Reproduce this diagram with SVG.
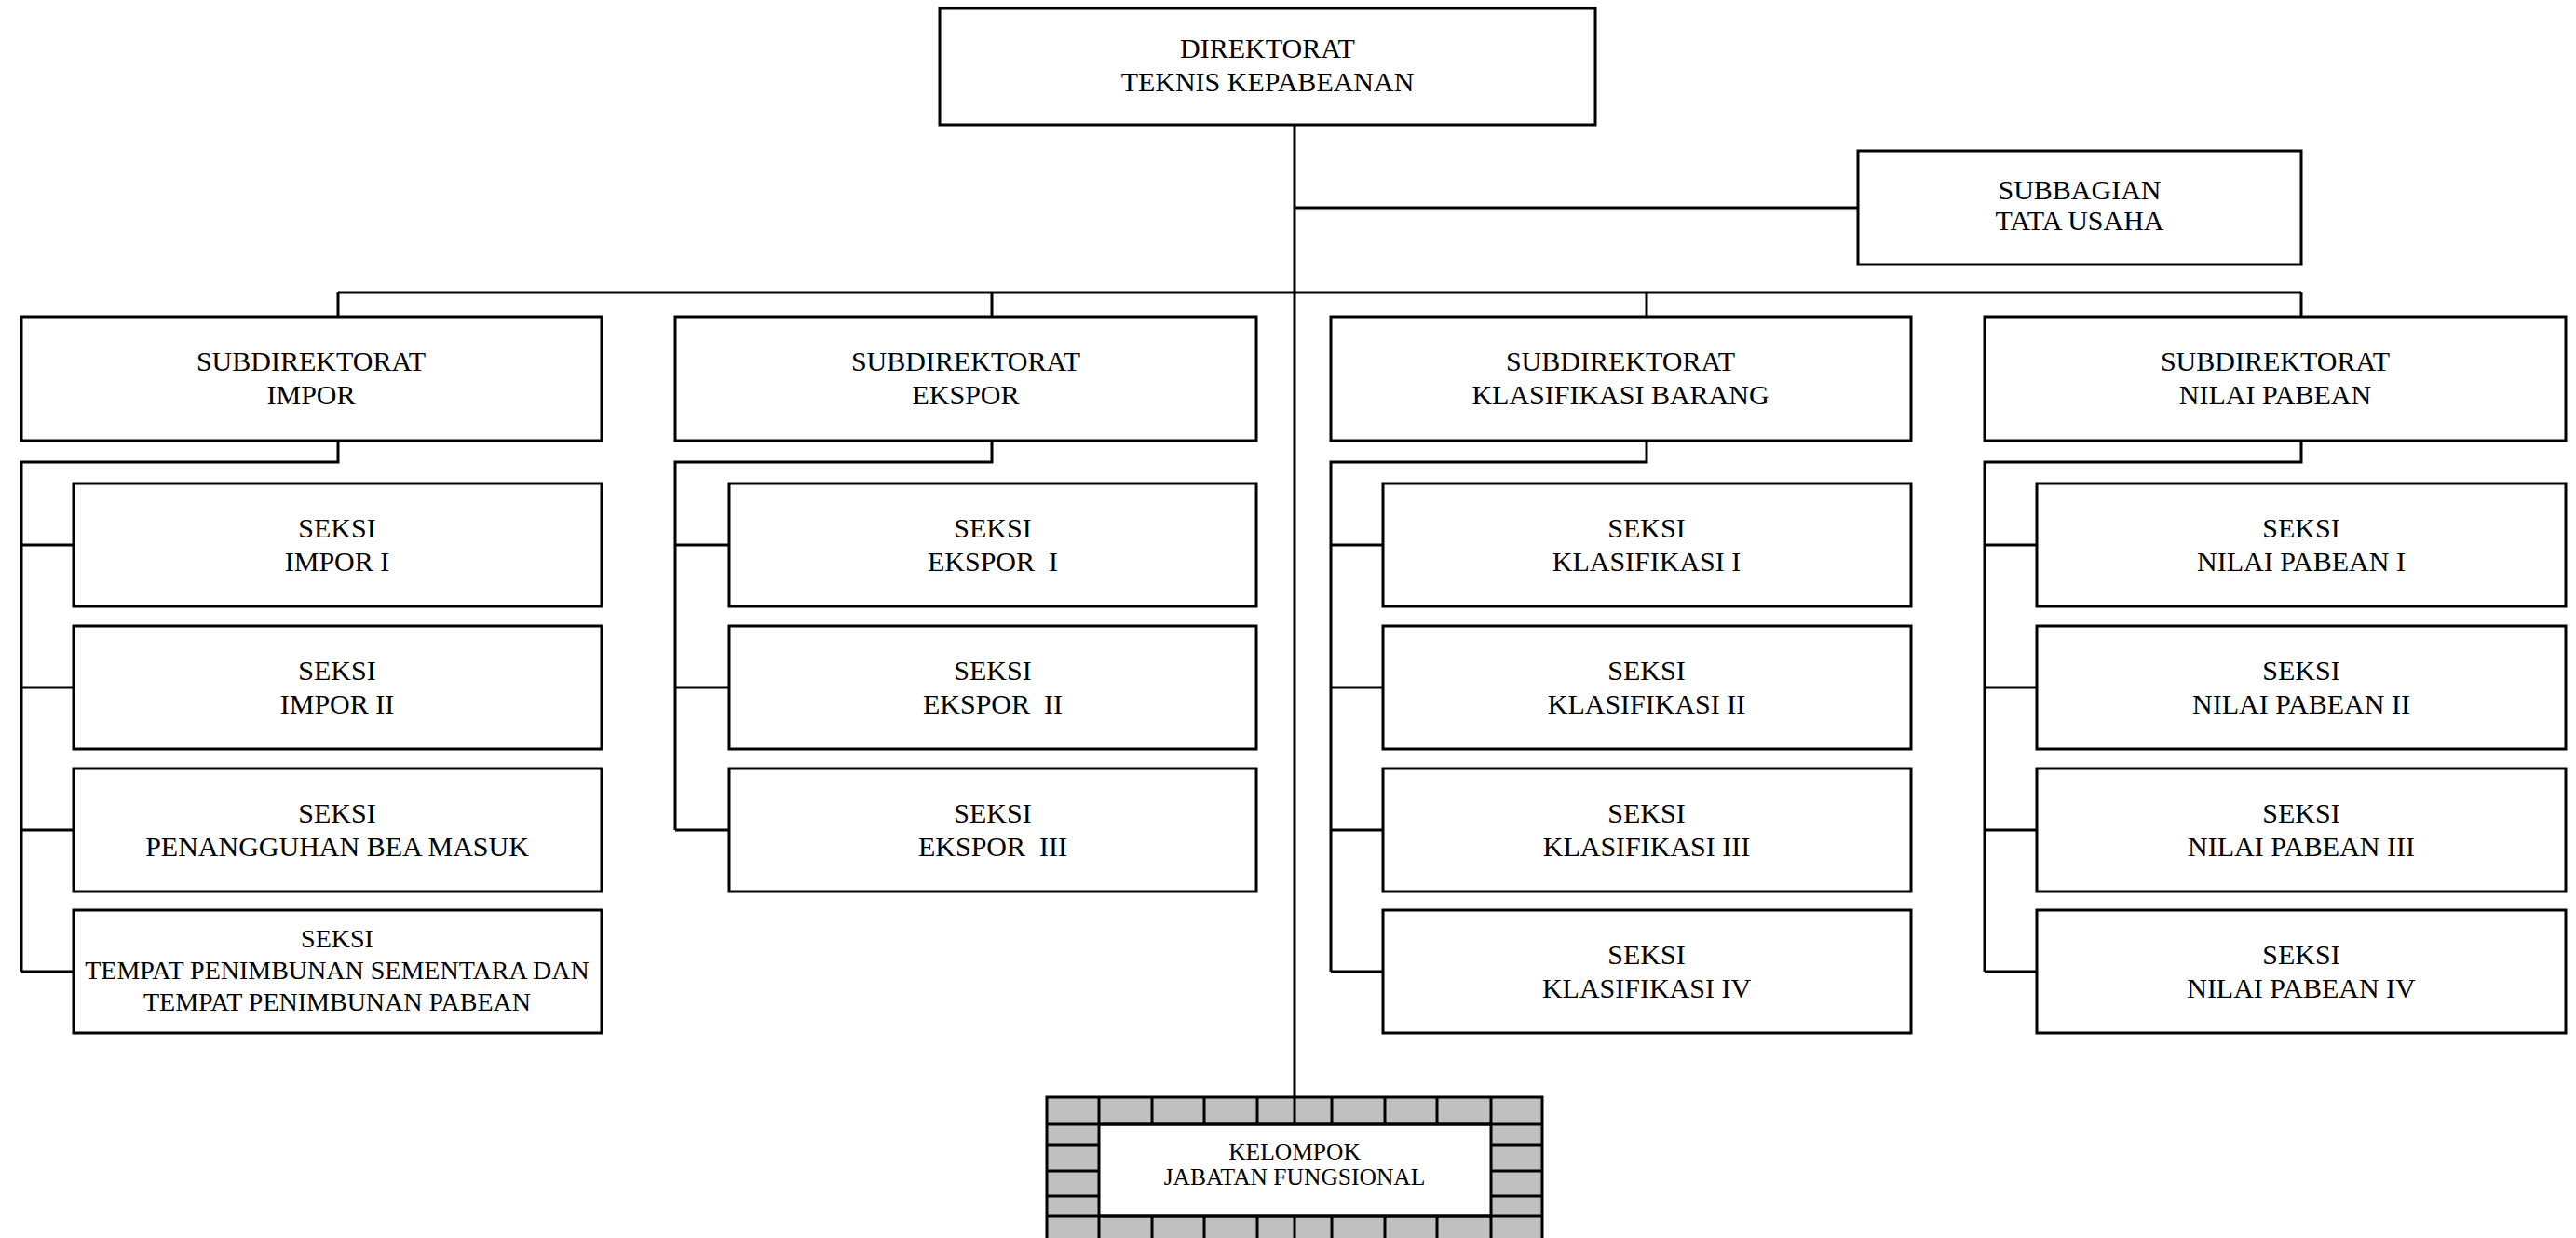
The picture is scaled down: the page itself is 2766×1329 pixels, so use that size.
<svg xmlns="http://www.w3.org/2000/svg" width="2766" height="1329" viewBox="0 0 2766 1329">
<style>
.box{fill:#fff;stroke:#000;stroke-width:3}
.t{font-family:'Liberation Serif','Times New Roman',serif;font-size:30px;text-anchor:middle;fill:#000;white-space:pre}
.s{font-size:28px}
.k{font-size:25.5px}
.conn{stroke:#000;stroke-width:3;fill:none}
.cell{fill:#c0c0c0;stroke:#000;stroke-width:3}
.grid{stroke:#000;stroke-width:3;fill:none}
</style>
<rect width="2766" height="1329" fill="#fff"/>
<g id="connectors">
<path class="conn" d="M1390 134 V1178"/>
<path class="conn" d="M1390 223 H1995"/>
<path class="conn" d="M363 314 H2471"/>
<path class="conn" d="M363 314 V340 M1065 314 V340 M1768 314 V340 M2471 314 V340"/>
<path class="conn" d="M363 473 V496 H23 V1043 M23 585 H79 M23 738 H79 M23 891 H79 M23 1043 H79"/>
<path class="conn" d="M1065 473 V496 H725 V891 M725 585 H783 M725 738 H783 M725 891 H783"/>
<path class="conn" d="M1768 473 V496 H1429 V1043 M1429 585 H1485 M1429 738 H1485 M1429 891 H1485 M1429 1043 H1485"/>
<path class="conn" d="M2471 473 V496 H2131 V1043 M2131 585 H2187 M2131 738 H2187 M2131 891 H2187 M2131 1043 H2187"/>
</g>
<g id="direktorat"><rect class="box" x="1009" y="9" width="704" height="125"/>
<text class="t" x="1361" y="62">DIREKTORAT</text><text class="t" x="1361" y="98">TEKNIS KEPABEANAN</text></g>
<g id="subbagian-tu"><rect class="box" x="1995" y="162" width="476" height="122"/>
<text class="t" x="2233" y="214">SUBBAGIAN</text><text class="t" x="2233" y="247">TATA USAHA</text></g>

<g id="subdit-impor"><rect class="box" x="23" y="340" width="623" height="133"/>
<text class="t" x="334" y="398">SUBDIREKTORAT</text><text class="t" x="334" y="434">IMPOR</text></g>
<g id="subdit-ekspor"><rect class="box" x="725" y="340" width="624" height="133"/>
<text class="t" x="1037" y="398">SUBDIREKTORAT</text><text class="t" x="1037" y="434">EKSPOR</text></g>
<g id="subdit-klasifikasi"><rect class="box" x="1429" y="340" width="623" height="133"/>
<text class="t" x="1740" y="398">SUBDIREKTORAT</text><text class="t" x="1740" y="434">KLASIFIKASI BARANG</text></g>
<g id="subdit-nilai"><rect class="box" x="2131" y="340" width="624" height="133"/>
<text class="t" x="2443" y="398">SUBDIREKTORAT</text><text class="t" x="2443" y="434">NILAI PABEAN</text></g>

<g id="seksi-impor-1"><rect class="box" x="79" y="519" width="567" height="132"/>
<text class="t" x="362" y="577">SEKSI</text><text class="t" x="362" y="613">IMPOR I</text></g>
<g id="seksi-impor-2"><rect class="box" x="79" y="672" width="567" height="132"/>
<text class="t" x="362" y="730">SEKSI</text><text class="t" x="362" y="766">IMPOR II</text></g>
<g id="seksi-impor-3"><rect class="box" x="79" y="825" width="567" height="132"/>
<text class="t" x="362" y="883">SEKSI</text><text class="t" x="362" y="919">PENANGGUHAN BEA MASUK</text></g>
<g id="seksi-impor-4"><rect class="box" x="79" y="977" width="567" height="132"/>
<text class="t s" x="362" y="1017">SEKSI</text><text class="t s" x="362" y="1051">TEMPAT PENIMBUNAN SEMENTARA DAN</text><text class="t s" x="362" y="1085">TEMPAT PENIMBUNAN PABEAN</text></g>

<g id="seksi-ekspor-1"><rect class="box" x="783" y="519" width="566" height="132"/>
<text class="t" x="1066" y="577">SEKSI</text><text class="t" x="1066" y="613">EKSPOR  I</text></g>
<g id="seksi-ekspor-2"><rect class="box" x="783" y="672" width="566" height="132"/>
<text class="t" x="1066" y="730">SEKSI</text><text class="t" x="1066" y="766">EKSPOR  II</text></g>
<g id="seksi-ekspor-3"><rect class="box" x="783" y="825" width="566" height="132"/>
<text class="t" x="1066" y="883">SEKSI</text><text class="t" x="1066" y="919">EKSPOR  III</text></g>

<g id="seksi-klasifikasi-1"><rect class="box" x="1485" y="519" width="567" height="132"/>
<text class="t" x="1768" y="577">SEKSI</text><text class="t" x="1768" y="613">KLASIFIKASI I</text></g>
<g id="seksi-klasifikasi-2"><rect class="box" x="1485" y="672" width="567" height="132"/>
<text class="t" x="1768" y="730">SEKSI</text><text class="t" x="1768" y="766">KLASIFIKASI II</text></g>
<g id="seksi-klasifikasi-3"><rect class="box" x="1485" y="825" width="567" height="132"/>
<text class="t" x="1768" y="883">SEKSI</text><text class="t" x="1768" y="919">KLASIFIKASI III</text></g>
<g id="seksi-klasifikasi-4"><rect class="box" x="1485" y="977" width="567" height="132"/>
<text class="t" x="1768" y="1035">SEKSI</text><text class="t" x="1768" y="1071">KLASIFIKASI IV</text></g>

<g id="seksi-nilai-1"><rect class="box" x="2187" y="519" width="568" height="132"/>
<text class="t" x="2471" y="577">SEKSI</text><text class="t" x="2471" y="613">NILAI PABEAN I</text></g>
<g id="seksi-nilai-2"><rect class="box" x="2187" y="672" width="568" height="132"/>
<text class="t" x="2471" y="730">SEKSI</text><text class="t" x="2471" y="766">NILAI PABEAN II</text></g>
<g id="seksi-nilai-3"><rect class="box" x="2187" y="825" width="568" height="132"/>
<text class="t" x="2471" y="883">SEKSI</text><text class="t" x="2471" y="919">NILAI PABEAN III</text></g>
<g id="seksi-nilai-4"><rect class="box" x="2187" y="977" width="568" height="132"/>
<text class="t" x="2471" y="1035">SEKSI</text><text class="t" x="2471" y="1071">NILAI PABEAN IV</text></g>

<g id="kelompok-jf">
<rect class="cell" x="1124" y="1178" width="532" height="156"/>
<rect class="box" x="1180" y="1207" width="421" height="98"/>
<path class="grid" d="M1124 1207 H1656 M1124 1305 H1656 M1124 1229 H1180 M1124 1257 H1180 M1124 1284 H1180 M1601 1229 H1656 M1601 1257 H1656 M1601 1284 H1656"/>
<path class="grid" d="M1180 1178 V1207 M1237 1178 V1207 M1293 1178 V1207 M1350 1178 V1207 M1390 1178 V1207 M1430 1178 V1207 M1487 1178 V1207 M1543 1178 V1207 M1601 1178 V1207"/>
<path class="grid" d="M1180 1305 V1334 M1237 1305 V1334 M1293 1305 V1334 M1350 1305 V1334 M1390 1305 V1334 M1430 1305 V1334 M1487 1305 V1334 M1543 1305 V1334 M1601 1305 V1334"/>
<text class="t k" x="1390" y="1245">KELOMPOK</text><text class="t k" x="1390" y="1272">JABATAN FUNGSIONAL</text>
</g>
</svg>
